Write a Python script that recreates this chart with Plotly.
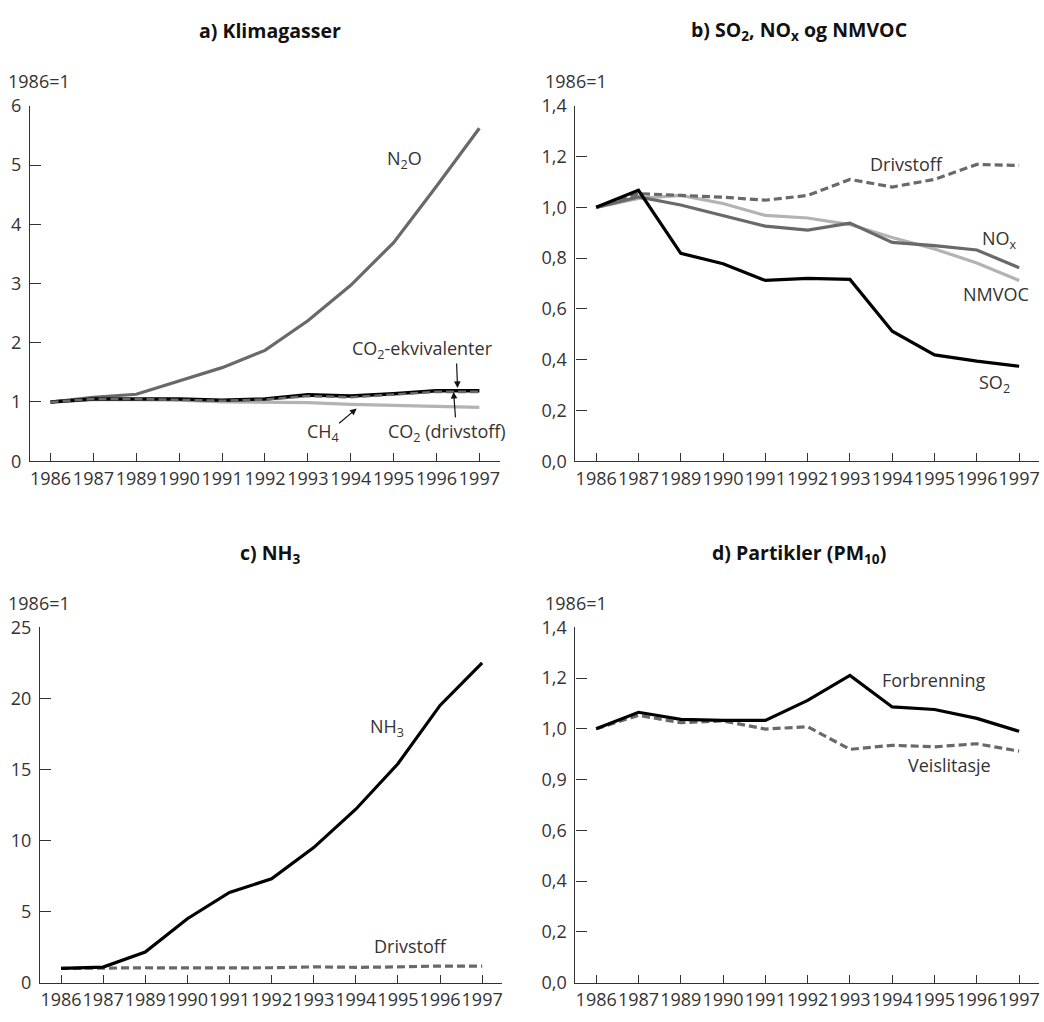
import plotly.graph_objects as go

W, H = 1044, 1022

years = ["1986", "1987", "1989", "1990", "1991", "1992", "1993", "1994", "1995", "1996", "1997"]

# a) Klimagasser
a_n2o = [1.0, 1.08, 1.13, 1.35, 1.58, 1.87, 2.37, 2.97, 3.69, 4.64, 5.62]
a_co2ekv = [1.0, 1.05, 1.05, 1.05, 1.03, 1.05, 1.12, 1.10, 1.14, 1.19, 1.19]
a_co2drv = [1.0, 1.05, 1.05, 1.04, 1.02, 1.04, 1.10, 1.08, 1.12, 1.17, 1.17]
a_ch4 = [1.0, 1.04, 1.04, 1.03, 1.0, 1.0, 0.99, 0.96, 0.94, 0.92, 0.91]

# b) SO2, NOx og NMVOC
b_drv = [1.0, 1.054, 1.047, 1.04, 1.028, 1.047, 1.11, 1.08, 1.11, 1.169, 1.165]
b_nox = [1.0, 1.041, 1.009, 0.968, 0.926, 0.91, 0.938, 0.862, 0.849, 0.832, 0.762]
b_nmvoc = [1.0, 1.035, 1.047, 1.015, 0.968, 0.958, 0.932, 0.881, 0.836, 0.781, 0.712]
b_so2 = [1.0, 1.067, 0.819, 0.778, 0.712, 0.72, 0.716, 0.512, 0.419, 0.394, 0.374]

# c) NH3
c_nh3 = [1.0, 1.1, 2.15, 4.5, 6.35, 7.3, 9.5, 12.2, 15.4, 19.5, 22.5]
c_drv = [1.0, 1.05, 1.05, 1.04, 1.02, 1.05, 1.11, 1.08, 1.11, 1.17, 1.17]

# d) Partikler (PM10)
d_forbr = [1.0, 1.065, 1.037, 1.033, 1.033, 1.112, 1.21, 1.086, 1.076, 1.041, 0.99]
d_veis = [1.0, 1.053, 1.024, 1.031, 0.999, 1.008, 0.919, 0.935, 0.929, 0.941, 0.912]

a_ticks = [0, 1, 2, 3, 4, 5, 6]
b_tickvals = [0, 0.2, 0.4, 0.6, 0.8, 1.0, 1.2, 1.4]
b_ticktext = ["0,0", "0,2", "0,4", "0,6", "0,8", "1,0", "1,2", "1,4"]
c_ticks = [0, 5, 10, 15, 20, 25]
d_ticktext = ["0,0", "0,2", "0,4", "0,6", "0,9", "1,0", "1,2", "1,4"]

BLACK = "#000000"
DARK = "#696969"
LIGHT = "#b3b3b3"
TXT = "#333333"
FONT = "Open Sans"
TICK = 18
LBL = 18
TTL = 19.5


def px(x, y):
    return x / W, 1 - y / H


fig = go.Figure()


def add(xa, ya, y, color, dash=None, width=3.2):
    fig.add_trace(go.Scatter(
        x=years, y=y, mode="lines", xaxis=xa, yaxis=ya, showlegend=False,
        line=dict(color=color, width=width, dash=dash), hoverinfo="skip"))


DASH = "8px,4px"
# a
add("x", "y", a_n2o, DARK)
add("x", "y", a_ch4, LIGHT)
add("x", "y", a_co2ekv, BLACK, width=3.6)
add("x", "y", a_co2drv, DARK, dash=DASH, width=2.6)
# b
add("x2", "y2", b_nmvoc, LIGHT)
add("x2", "y2", b_nox, DARK)
add("x2", "y2", b_drv, DARK, dash=DASH)
add("x2", "y2", b_so2, BLACK)
# c
add("x3", "y3", c_drv, DARK, dash=DASH)
add("x3", "y3", c_nh3, BLACK)
# d
add("x4", "y4", d_veis, DARK, dash=DASH)
add("x4", "y4", d_forbr, BLACK)

panels = [
    # (suffix, x0, x1, y0, y1, xrange)
    ("", 30, 500, 95, 459, [-0.48, 10.47]),
    ("2", 576, 1040, 95, 459, [-0.49, 10.47]),
    ("3", 40, 502, 629, 993, [-0.5, 10.46]),
    ("4", 576, 1040, 629, 993, [-0.49, 10.47]),
]

yconf = [
    dict(range=[0, 6], tickvals=a_ticks, ticktext=[str(v) for v in a_ticks]),
    dict(range=[0, 1.4], tickvals=b_tickvals, ticktext=b_ticktext),
    dict(range=[0, 25], tickvals=c_ticks, ticktext=[str(v) for v in c_ticks]),
    dict(range=[0, 1.4], tickvals=b_tickvals, ticktext=d_ticktext),
]

layout = dict(width=W, height=H, margin=dict(l=0, r=0, t=0, b=0),
              paper_bgcolor="white", plot_bgcolor="white",
              font=dict(family=FONT, size=LBL, color=TXT))

for (suf, x0, x1, y0, y1, xr), yc in zip(panels, yconf):
    xid = "x" + suf
    yid = "y" + suf
    layout["xaxis" + suf] = dict(
        domain=[x0 / W, x1 / W], anchor=yid, type="category", range=xr,
        categoryorder="array", categoryarray=years,
        tickvals=years, ticktext=years, tickangle=0,
        showline=True, linecolor="#333333", linewidth=1.2, mirror=False,
        ticks="inside", ticklen=8, tickcolor="#333333", tickwidth=1,
        showgrid=False, zeroline=False, fixedrange=True,
        ticklabelstandoff=1,
        tickfont=dict(family=FONT, size=TICK, color=TXT))
    layout["yaxis" + suf] = dict(
        domain=[1 - y1 / H, 1 - y0 / H], anchor=xid,
        range=yc["range"], tickvals=yc["tickvals"], ticktext=yc["ticktext"],
        showline=True, linecolor="#333333", linewidth=1.2,
        ticks="inside", ticklen=11, tickcolor="#333333", tickwidth=1,
        showgrid=False, zeroline=False, fixedrange=True,
        ticklabelstandoff=4,
        tickfont=dict(family=FONT, size=TICK, color=TXT))

fig.update_layout(**layout)

anns = []


def text(x, y, s, size=LBL, bold=False, xanchor="center"):
    xp, yp = px(x, y)
    anns.append(dict(x=xp, y=yp, xref="paper", yref="paper", text=s,
                     showarrow=False, xanchor=xanchor, yanchor="middle",
                     font=dict(family=FONT, size=size, color="#111111" if bold else TXT)))


def arrow(tx, ty, fx, fy):
    xp, yp = px(tx, ty)
    anns.append(dict(x=xp, y=yp, xref="paper", yref="paper", text="",
                     showarrow=True, arrowhead=2, arrowsize=1.1, arrowwidth=1.2,
                     arrowcolor="#111111", ax=fx - tx, ay=fy - ty,
                     axref="pixel", ayref="pixel"))


# titles
text(270, 18, "<b>a) Klimagasser</b>", size=TTL, bold=True)
text(800, 18, "<b>b) SO<sub>2</sub>, NO<sub>x</sub> og NMVOC</b>", size=TTL, bold=True)
text(270, 553, "<b>c) NH<sub>3</sub></b>", size=TTL, bold=True)
text(800, 553, "<b>d) Partikler (PM<sub>10</sub>)</b>", size=TTL, bold=True)

# unit labels
text(6, 70, "1986=1", xanchor="left")
text(544, 70, "1986=1", xanchor="left")
text(6, 604, "1986=1", xanchor="left")
text(544, 604, "1986=1", xanchor="left")

# panel a labels
text(405, 150, "N<sub>2</sub>O")
text(423, 345, "CO<sub>2</sub>-ekvivalenter")
text(447, 430, "CO<sub>2</sub> (drivstoff)")
text(323, 430, "CH<sub>4</sub>")
arrow(458, 384, 457, 358)
arrow(454, 388, 456, 415)
arrow(357, 405, 338, 421)

# panel b labels
text(907, 155, "Drivstoff")
text(1000, 232, "NO<sub>x</sub>")
text(997, 288, "NMVOC")
text(995, 379, "SO<sub>2</sub>")

# panel c labels
text(387, 732, "NH<sub>3</sub>")
text(411, 955, "Drivstoff")

# panel d labels
text(935, 683, "Forbrenning")
text(950, 770, "Veislitasje")

fig.update_layout(annotations=anns)

fig.write_html("out.html")
